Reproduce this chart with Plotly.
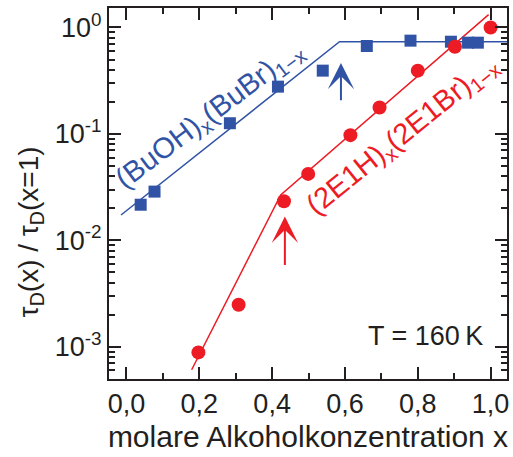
import numpy as np
import plotly.graph_objects as go

# (BuOH)x(BuBr)1-x : concentration and normalised relaxation time
buoh_x = [0.039, 0.077, 0.284, 0.416, 0.539, 0.660, 0.780, 0.891, 0.938, 0.965]
buoh_tau = [0.0216, 0.0287, 0.126, 0.278, 0.393, 0.670, 0.752, 0.735, 0.720, 0.720]

# (2E1H)x(2E1Br)1-x
e1h_x = [0.1975, 0.308, 0.4325, 0.499, 0.615, 0.695, 0.800, 0.902, 1.000]
e1h_tau = [0.000885, 0.00248, 0.0233, 0.0421, 0.0973, 0.177, 0.393, 0.660, 1.000]

# guide lines (kinked power laws)
buoh_fit_x = [-0.015, 0.585, 1.045]
buoh_fit_tau = [0.0173, 0.735, 0.735]
e1h_fit_x = [0.179, 0.4235, 0.9945]
e1h_fit_tau = [0.000608, 0.0267, 1.32]

# arrows marking the kinks: x, tail value, tip value
buoh_arrow = (0.589, 0.201, 0.464)
e1h_arrow = (0.435, 0.00568, 0.0167)

x_ticks = [0.0, 0.2, 0.4, 0.6, 0.8, 1.0]
y_ticks = [1e-3, 1e-2, 1e-1, 1.0]
y_ticktext = ["10<sup>-3</sup>", "10<sup>-2</sup>", "10<sup>-1</sup>", "10<sup>0</sup>"]

BLUE = "#3153a5"
RED = "#ed1c24"
INK = "#231f20"
FONT = "Liberation Sans"

y_minor = [m * 10.0 ** k for k in range(-4, 1) for m in range(2, 10)]

fig = go.Figure()
fig.add_trace(go.Scatter(x=buoh_fit_x, y=buoh_fit_tau, mode="lines",
                         line=dict(color=BLUE, width=1.5), showlegend=False))
fig.add_trace(go.Scatter(x=e1h_fit_x, y=e1h_fit_tau, mode="lines",
                         line=dict(color=RED, width=1.5), showlegend=False))
fig.add_trace(go.Scatter(x=buoh_x, y=buoh_tau, mode="markers",
                         marker=dict(symbol="square", size=12, color=BLUE,
                                     line=dict(width=0)), showlegend=False))
fig.add_trace(go.Scatter(x=e1h_x, y=e1h_tau, mode="markers",
                         marker=dict(symbol="circle", size=14, color=RED,
                                     line=dict(width=0)), showlegend=False))

annotations = []
for (ax_x, tail, tip), col in [(buoh_arrow, BLUE), (e1h_arrow, RED)]:
    annotations.append(dict(x=ax_x, y=np.log10(tip), ax=ax_x, ay=np.log10(tail),
                            xref="x", yref="y", axref="x", ayref="y",
                            text="", showarrow=True, arrowhead=3, arrowsize=2.2,
                            arrowwidth=2, arrowcolor=col))

labels = [
    dict(x=211, y=115, text="(BuOH)<sub>x</sub>(BuBr)<sub>1−x</sub>",
         textangle=-37, font=dict(family=FONT, size=29, color=BLUE)),
    dict(x=404, y=136, text="(2E1H)<sub>x</sub>(2E1Br)<sub>1−x</sub>",
         textangle=-39, font=dict(family=FONT, size=29, color=RED)),
    dict(x=427, y=336, text="T = 160\u2009K", textangle=0,
         font=dict(family=FONT, size=27, color=INK)),
    dict(x=30, y=232, text="τ<sub>D</sub>(x) / τ<sub>D</sub>(x=1)", textangle=-90,
         font=dict(family=FONT, size=28, color=INK)),
]

# labels are placed by pixel centre; convert to paper coordinates
W, H = 513, 457
L, R, T, B = 109, 4, 8, 78
pw, ph = W - L - R, H - T - B
for a in labels:
    a.update(x=(a["x"] - L) / pw, y=1 - (a["y"] - T) / ph,
             xref="paper", yref="paper", xanchor="center", yanchor="middle",
             showarrow=False)
    annotations.append(a)

fig.update_layout(
    width=W, height=H,
    margin=dict(l=L, r=R, t=T, b=B, pad=0),
    paper_bgcolor="white", plot_bgcolor="white",
    separators=",.",
    font=dict(family=FONT, size=27, color=INK),
    annotations=annotations,
    xaxis=dict(range=[-0.048, 1.045], tickmode="array", tickvals=x_ticks, tickformat=".1f",
               ticks="inside", ticklen=12, tickwidth=2, tickcolor=INK,
               showline=True, linewidth=2, linecolor=INK, mirror="ticks",
               showgrid=False, zeroline=False,
               minor=dict(dtick=0.1, tick0=0, ticks="inside", ticklen=6, tickwidth=2,
                          tickcolor=INK, showgrid=False),
               title=dict(text="molare Alkoholkonzentration x", standoff=8,
                          font=dict(family=FONT, size=30, color=INK)),
               tickfont=dict(family=FONT, size=27, color=INK)),
    yaxis=dict(type="log", range=[-3.303, 0.183], tickmode="array", tickvals=y_ticks,
               ticktext=y_ticktext, ticks="inside", ticklen=12, tickwidth=2, tickcolor=INK,
               showline=True, linewidth=2, linecolor=INK, mirror="ticks",
               showgrid=False, zeroline=False,
               minor=dict(tickvals=y_minor, ticks="inside", ticklen=6, tickwidth=2,
                          tickcolor=INK, showgrid=False),
               tickfont=dict(family=FONT, size=27, color=INK)),
)

fig.write_html("out.html")
